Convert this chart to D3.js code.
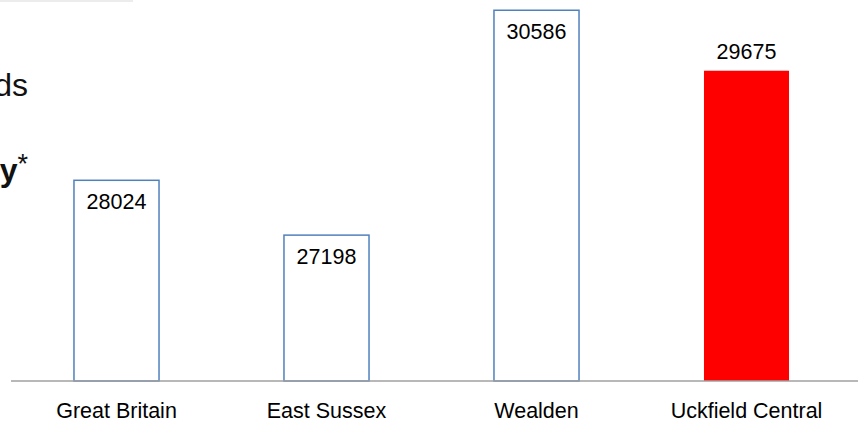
<!DOCTYPE html>
<html>
<head>
<meta charset="utf-8">
<script src="https://cdn.jsdelivr.net/npm/d3@7"></script>
<style>
  html, body { margin: 0; padding: 0; background: #fff; }
  svg { display: block; font-family: "Liberation Sans", Arial, sans-serif; }
</style>
</head>
<body>
<svg id="chart" width="858" height="423"></svg>
<script>
const categories = ["Great Britain", "East Sussex", "Wealden", "Uckfield Central"];
const values = [28024, 27198, 30586, 29675];
const highlight = [false, false, false, true];

const W = 858, H = 423;
const svg = d3.select("#chart");

// faint shadow line at top-left (edge of a clipped element)
svg.append("rect").attr("x", 0).attr("y", 0).attr("width", 133).attr("height", 2)
  .attr("fill", "#ececec");

// clipped title fragments at the left
svg.append("text").attr("x", 28).attr("y", 96).attr("text-anchor", "end")
  .attr("font-size", 32).attr("fill", "#111").text("ds");
const t2 = svg.append("text").attr("x", 28).attr("y", 181).attr("text-anchor", "end")
  .attr("font-size", 32).attr("font-weight", "bold").attr("fill", "#111");
t2.append("tspan").text("y");
t2.append("tspan").attr("font-size", 27).attr("font-weight", "normal").attr("dy", -8).text("*");

const baseY = 381;
const y = d3.scaleLinear().domain([25000, 31000]).range([baseY, baseY - 6000 * 0.06637]);
const x = d3.scaleBand().domain(categories).range([11.5, 851.5]).paddingInner(0.595).paddingOuter(0.2975);

const data = categories.map((c, i) => ({ c, v: values[i], h: highlight[i] }));

svg.selectAll("rect.bar").data(data).join("rect")
  .attr("class", "bar")
  .attr("x", d => x(d.c))
  .attr("y", d => y(d.v))
  .attr("width", x.bandwidth())
  .attr("height", d => baseY - y(d.v))
  .attr("fill", d => d.h ? "#ff0000" : "#ffffff")
  .attr("stroke", d => d.h ? "none" : "#4f81bd")
  .attr("stroke-width", 1.5);

// axis line
svg.append("line").attr("x1", 11).attr("x2", 858).attr("y1", baseY).attr("y2", baseY)
  .attr("stroke", "#a0a0a0").attr("stroke-width", 1.5);

// value labels
svg.selectAll("text.val").data(data).join("text")
  .attr("class", "val")
  .attr("x", d => x(d.c) + x.bandwidth() / 2)
  .attr("y", d => d.h ? y(d.v) - 11.5 : y(d.v) + 29)
  .attr("text-anchor", "middle")
  .attr("font-size", 21.5)
  .attr("fill", "#000")
  .text(d => d.v);

// category labels
svg.selectAll("text.cat").data(data).join("text")
  .attr("class", "cat")
  .attr("x", d => x(d.c) + x.bandwidth() / 2)
  .attr("y", 418)
  .attr("text-anchor", "middle")
  .attr("font-size", 21.5)
  .attr("fill", "#000")
  .text(d => d.c);
</script>
</body>
</html>
